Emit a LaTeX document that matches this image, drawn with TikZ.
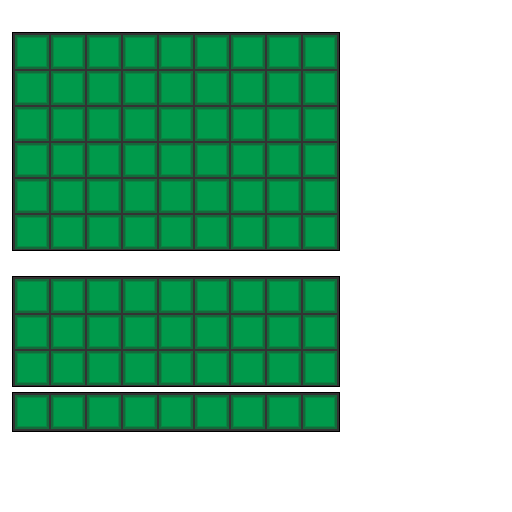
\documentclass[tikz,border=0pt]{standalone}
\usepackage{tikz}
\definecolor{cellgreen}{HTML}{009A4B}
\definecolor{celledge}{HTML}{136A3A}
\definecolor{traygray}{HTML}{333333}

\begin{document}
\begin{tikzpicture}[x=1pt, y=-1pt,
    tray/.style={fill=traygray, draw=black, line width=1pt},
    cell/.style={rectangle, draw=celledge, fill=cellgreen, line width=2pt, inner sep=0pt, minimum size=32pt,
      path picture={\draw[celledge!45!cellgreen, line width=1.2pt]
        ([shift={(1.6pt,-1.6pt)}]path picture bounding box.north west) rectangle
        ([shift={(-1.6pt,1.6pt)}]path picture bounding box.south east);}}
]
\useasboundingbox (0,0) rectangle (512,512);

% upper tray, six rows
\draw[tray] (12.5,32.5) rectangle (339.5,250.5);
\foreach \r in {1,...,6}
  \foreach \c in {1,...,9}
    \node[cell] (up-\r-\c) at ({-4+36*\c}, {16+36*\r}) {};

% middle tray, three rows
\draw[tray] (12.5,276.5) rectangle (339.5,386.5);
\foreach \r in {1,...,3}
  \foreach \c in {1,...,9}
    \node[cell] (mid-\r-\c) at ({-4+36*\c}, {260+36*\r}) {};

% lower tray, one row
\draw[tray] (12.5,392.5) rectangle (339.5,431.5);
\foreach \c in {1,...,9}
  \node[cell] (low-\c) at ({-4+36*\c}, 412) {};
\end{tikzpicture}
\end{document}
